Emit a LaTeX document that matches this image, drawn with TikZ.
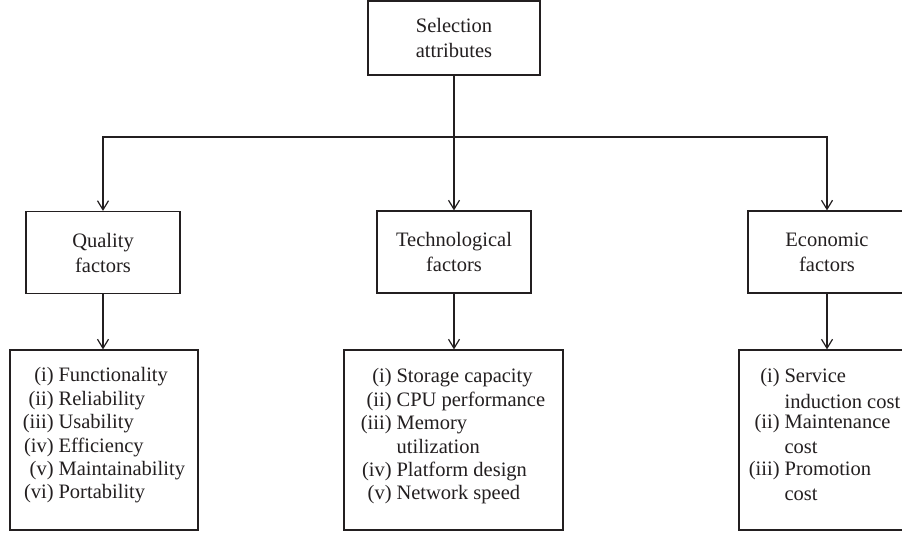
\documentclass[tikz,border=0pt]{standalone}
\usepackage{fontspec}
\setmainfont{Liberation Serif}
\usetikzlibrary{arrows.meta,calc}
\definecolor{ink}{HTML}{231F20}
\begin{document}
\begin{tikzpicture}[x=1pt,y=1pt,
  line width=1.2pt, draw=ink,
  headbox/.style={draw=ink, line width=1.2pt, minimum width=154pt, minimum height=82pt,
    align=center, inner sep=0pt, text=ink,
    font=\fontsize{20.5}{25}\selectfont},
  listbox/.style={draw=ink, line width=1.2pt, inner sep=0pt},
  listtext/.style={anchor=base west, inner sep=0pt, text=ink,
    font=\fontsize{20.5}{23.4}\selectfont},
  conn/.style={draw=ink, line width=1.2pt},
  arr/.style={conn, -{Straight Barb[length=9pt,width=11pt,line width=1.2pt]}}]
\useasboundingbox (0,0) rectangle (902,533);
\fill[white] (0,0) rectangle (902,533);

% root
\node[headbox, minimum width=172pt, minimum height=74pt] (root) at (454,495) {Selection\\attributes};

% second level
\node[headbox] (qual) at (103,280.5) {Quality\\factors};
\node[headbox] (tech) at (454,281) {Technological\\factors};
\node[headbox, minimum width=158pt] (econ) at (827,281) {Economic\\factors};

% list boxes
\node[listbox, minimum width=188pt, minimum height=180pt] (qbox) at (104,93) {};
\node[listbox, minimum width=219pt, minimum height=180pt] (tbox) at (453.5,93) {};
\node[listbox, minimum width=219pt, minimum height=180pt] (ebox) at (848.5,93) {};

% list contents
\node[listtext] (qtext) at (58,151) {\begin{tabular}[t]{@{}l@{}}
\llap{(i)\hspace{5pt}}Functionality\\
\llap{(ii)\hspace{5pt}}Reliability\\
\llap{(iii)\hspace{5pt}}Usability\\
\llap{(iv)\hspace{5pt}}Efficiency\\
\llap{(v)\hspace{5pt}}Maintainability\\
\llap{(vi)\hspace{5pt}}Portability
\end{tabular}};

\node[listtext] (ttext) at (396,150) {\begin{tabular}[t]{@{}l@{}}
\llap{(i)\hspace{5pt}}Storage capacity\\
\llap{(ii)\hspace{5pt}}CPU performance\\
\llap{(iii)\hspace{5pt}}Memory\\
utilization\\
\llap{(iv)\hspace{5pt}}Platform design\\
\llap{(v)\hspace{5pt}}Network speed
\end{tabular}};

\node[listtext] (etext) at (784,150) {\begin{tabular}[t]{@{}l@{}}
\llap{(i)\hspace{5pt}}Service\\[2.6pt]
induction cost\\[-3.4pt]
\llap{(ii)\hspace{5pt}}Maintenance\\[1.6pt]
cost\\[-1.4pt]
\llap{(iii)\hspace{5pt}}Promotion\\[1.6pt]
cost
\end{tabular}};

% connectors
\coordinate (bus) at (454,396);
\draw[conn] (root.south) -- (bus);
\draw[arr] (bus) -| (qual.north);
\draw[arr] (bus) -| (econ.north);
\draw[arr] (bus) -- (tech.north);
\draw[arr] (qual.south) -- (qual.south |- qbox.north);
\draw[arr] (tech.south) -- (tech.south |- tbox.north);
\draw[arr] (econ.south) -- (econ.south |- ebox.north);
\end{tikzpicture}
\end{document}
